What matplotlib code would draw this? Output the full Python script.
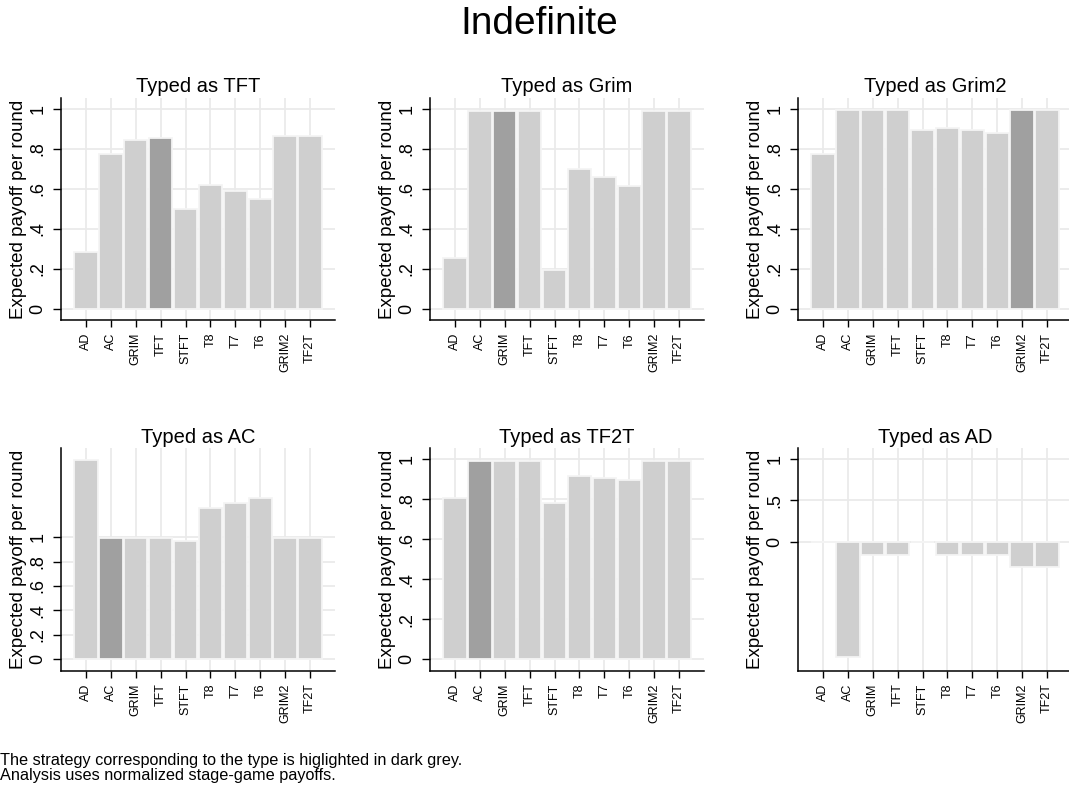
import numpy as np
import matplotlib
matplotlib.use("Agg")
import matplotlib.pyplot as plt

plt.rcParams['font.family'] = ['Liberation Sans', 'DejaVu Sans']

strategies = ["AD", "AC", "GRIM", "TFT", "STFT", "T8", "T7", "T6", "GRIM2", "TF2T"]

titles = ["Typed as TFT", "Typed as Grim", "Typed as Grim2",
          "Typed as AC", "Typed as TF2T", "Typed as AD"]

tft_vals = [0.284, 0.775, 0.846, 0.855, 0.499, 0.618, 0.588, 0.551, 0.865, 0.865]
grim_vals = [0.257, 0.99, 0.99, 0.99, 0.197, 0.701, 0.661, 0.614, 0.99, 0.99]
grim2_vals = [0.775, 0.993, 0.993, 0.993, 0.895, 0.905, 0.895, 0.881, 0.993, 0.993]
ac_vals = [1.637, 0.992, 0.992, 0.992, 0.967, 1.245, 1.280, 1.321, 0.992, 0.992]
tf2t_vals = [0.805, 0.993, 0.993, 0.993, 0.780, 0.918, 0.908, 0.898, 0.993, 0.993]
ad_vals = [0.0, -1.391, -0.157, -0.157, 0.0, -0.157, -0.157, -0.157, -0.306, -0.306]

# which bar is the strategy of the type (dark grey)
highlight = [3, 2, 8, 1, 1, 0]

yticks_std = [0, 0.2, 0.4, 0.6, 0.8, 1]
ylabels_std = ["0", ".2", ".4", ".6", ".8", "1"]
yticks_ad = [0, 0.5, 1]
ylabels_ad = ["0", ".5", "1"]

panels = [tft_vals, grim_vals, grim2_vals, ac_vals, tf2t_vals, ad_vals]
ylims = [(-0.058, 1.055), (-0.058, 1.055), (-0.058, 1.055),
         (-0.099, 1.734), (-0.058, 1.055), (-1.56, 1.129)]

W, H = 1069, 793
fig = plt.figure(figsize=(W / 100, H / 100), dpi=100)
fig.patch.set_facecolor('white')

lefts = [61, 430, 798]
tops = [98, 448.3]
aw, ah = 274, 222.5

light = '#cfcfcf'
dark = '#a0a0a0'
grid_c = '#eaeaea'

for i, vals in enumerate(panels):
    r, c = divmod(i, 3)
    ax = fig.add_axes([lefts[c] / W, 1 - (tops[r] + ah) / H, aw / W, ah / H])
    ax.set_axisbelow(True)
    x = np.arange(len(strategies))
    cols = [dark if k == highlight[i] else light for k in range(len(strategies))]
    ax.bar(x, vals, width=0.94, color=cols, edgecolor='#f4f4f4', linewidth=1.3)

    ax.set_xlim(-1, 10)
    ax.set_ylim(*ylims[i])
    ax.set_xticks(x)
    ax.set_xticklabels(strategies, rotation=90, fontsize=9)
    if i == 5:
        ax.set_yticks(yticks_ad)
        ax.set_yticklabels(ylabels_ad)
    else:
        ax.set_yticks(yticks_std)
        ax.set_yticklabels(ylabels_std)
    ax.tick_params(axis='y', labelrotation=90, labelsize=13, length=6, width=1, pad=4.5)
    for lab in ax.get_yticklabels():
        lab.set_va('center')
    ax.tick_params(axis='x', length=5, width=1, pad=4)

    ax.grid(True, color=grid_c, linewidth=1.3)
    for s in ['top', 'right']:
        ax.spines[s].set_visible(False)
    for s in ['left', 'bottom']:
        ax.spines[s].set_linewidth(1.1)
    ax.set_ylabel("Expected payoff per round", fontsize=13.5, labelpad=2)
    ax.set_title(titles[i], fontsize=14.5, pad=4)

fig.text(539 / W, 1 - 34 / H, "Indefinite", fontsize=28, ha='center', va='baseline')

notes = ["The strategy corresponding to the type is higlighted in dark grey.",
         "Analysis uses normalized stage-game payoffs."]
fig.text(0, 1 - 765 / H, notes[0], fontsize=11.7, ha='left', va='baseline')
fig.text(0, 1 - 780 / H, notes[1], fontsize=11.7, ha='left', va='baseline')

fig.savefig("out.png", dpi=100, facecolor='white')
